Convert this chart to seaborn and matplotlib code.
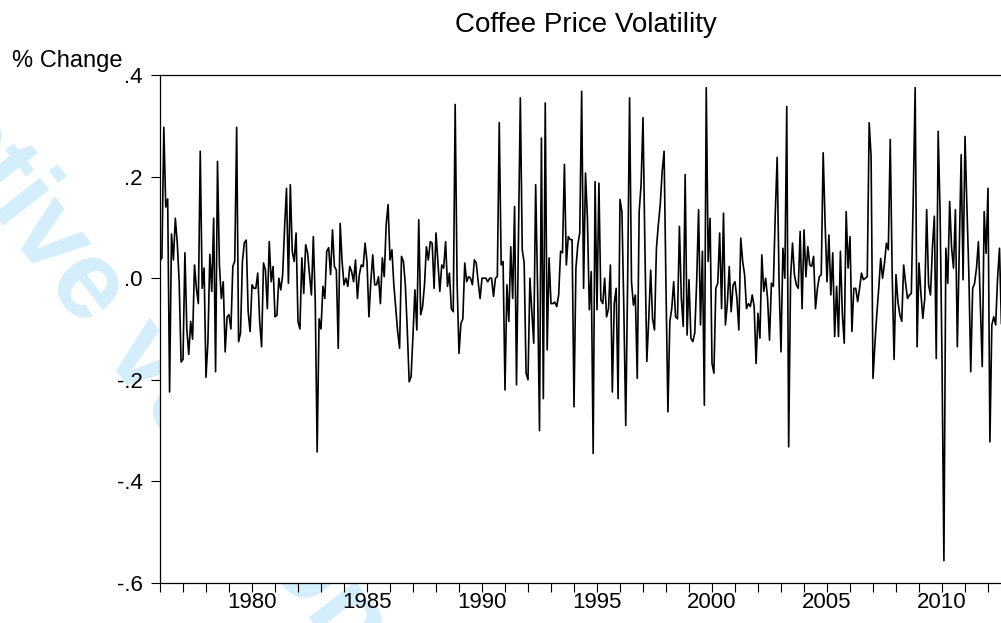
import numpy as np
import pandas as pd
import seaborn as sns
import matplotlib.pyplot as plt
from matplotlib.ticker import FixedLocator, MultipleLocator

# monthly % change, starting 1976M01
pct_change = [
    # 1976 - 1979
    0.034, 0.04, 0.297, 0.14, 0.156, -0.224, 0.087, 0.036, 0.118, 0.07, -0.007, -0.165,
    -0.16, 0.05, -0.1, -0.15, -0.085, -0.12, 0.026, -0.02, -0.05, 0.25, -0.02, 0.02,
    -0.195, -0.125, 0.047, -0.026, 0.118, -0.184, 0.23, 0.026, -0.04, -0.007, -0.145, -0.076,
    -0.072, -0.1, 0.023, 0.034, 0.297, -0.125, -0.108, 0.033, 0.07, 0.075, -0.066,
    # 1979M12 - 1983
    -0.105, -0.013, -0.02, -0.02, 0.01, -0.085, -0.135, 0.03, 0.016, -0.06, 0.072, -0.007,
    0.023, -0.076, -0.073, 0.0, -0.023, 0.007, 0.10, 0.177, -0.01, 0.184, 0.053, 0.033,
    0.089, -0.085, -0.10, 0.04, -0.03, 0.066, 0.05, 0.007, -0.033, 0.082, -0.046, -0.342,
    -0.08, -0.10, -0.016, -0.04, 0.053, 0.06, 0.007, 0.095, 0.023, 0.016, -0.138,
    # 1983M11 - 1987
    0.108, 0.033, -0.013, 0.0, -0.016, 0.023, 0.013, -0.007, 0.036, -0.04, 0.007, 0.026,
    0.023, 0.069, 0.033, -0.076, -0.007, 0.046, -0.013, -0.013, 0.003, -0.05, 0.04, 0.003,
    0.105, 0.145, 0.036, 0.056, -0.013, -0.06, -0.105, -0.138, 0.043, 0.033, -0.013, -0.10,
    -0.204, -0.194, -0.112, -0.023, -0.102, 0.115, -0.072, -0.056, -0.013, 0.062, 0.036,
    # 1987M10 - 1991
    0.072, 0.069, -0.02, 0.089, 0.033, -0.026, 0.026, 0.02, 0.072, -0.016, 0.01, -0.06,
    -0.066, 0.342, -0.007, -0.148, -0.089, -0.08, 0.03, -0.007, 0.003, 0.0, -0.013, 0.036,
    0.03, -0.007, -0.04, 0.0, 0.0, 0.0, -0.007, 0.0, 0.0, -0.036, 0.0, 0.003,
    0.306, 0.026, 0.033, -0.22, -0.013, -0.085, 0.062, -0.04, 0.141, -0.21,
    # 1991M08 - 1995
    0.07, 0.355, 0.056, 0.03, -0.187, -0.2, 0.0, -0.066, -0.128, 0.184, -0.02, -0.3,
    0.276, -0.237, 0.345, -0.141, 0.04, -0.05, -0.05, -0.047, -0.056, -0.033, 0.053, 0.05,
    0.224, 0.026, 0.082, 0.076, 0.076, -0.253, 0.02, 0.066, 0.089, 0.368, -0.02, 0.207,
    0.118, -0.062, 0.013, -0.345, 0.19, -0.062, 0.187, -0.043, -0.05, 0.0, -0.076, -0.06,
    0.026,
    # 1995M09 - 1999
    -0.224, -0.05, -0.02, -0.237, 0.155, 0.131, -0.06, -0.29, 0.0, 0.355, -0.007, -0.053,
    -0.033, -0.197, 0.131, 0.184, 0.316, 0.059, -0.164, -0.08, 0.016, -0.08, -0.102, 0.059,
    0.105, 0.145, 0.21, 0.25, -0.02, -0.263, -0.085, -0.06, -0.007, -0.076, -0.08, 0.102,
    -0.04, -0.095, 0.204, -0.112, -0.003, -0.118, -0.125, -0.108, -0.007, 0.135,
    # 1999M07 - 2003
    -0.092, 0.053, -0.25, 0.375, 0.033, 0.118, -0.168, -0.187, -0.02, -0.01, 0.089, -0.06,
    0.128, -0.092, -0.05, 0.023, -0.066, -0.013, -0.007, -0.04, -0.102, 0.079, 0.033, 0.007,
    -0.06, -0.05, -0.056, -0.033, -0.056, -0.168, -0.069, -0.118, 0.046, -0.026, 0.0, -0.04,
    -0.122, -0.01, -0.016, 0.125, 0.238, -0.01, -0.145, 0.059, 0.0, 0.338, -0.332,
    # 2003M06 - 2007
    0.0, 0.069, 0.007, -0.013, -0.02, 0.092, -0.06, 0.095, 0.003, 0.062, 0.026, 0.023,
    0.043, -0.06, -0.02, 0.003, 0.007, 0.247, 0.11, -0.007, 0.085, -0.033, 0.05, -0.115,
    -0.016, -0.115, 0.053, -0.07, -0.128, 0.131, 0.02, 0.082, -0.105, -0.02, -0.02, -0.046,
    -0.02, 0.01, -0.003, 0.0, 0.003, 0.306, 0.24, -0.197,
    # 2007M02 - 2012
    -0.13, -0.07, -0.02, 0.039, 0.0, 0.03, 0.069, 0.056, 0.273, 0.01, -0.16, 0.007,
    -0.046, -0.072, -0.085, 0.026, -0.01, -0.04, -0.033, -0.03, 0.16, 0.375, -0.135, 0.03,
    -0.03, -0.079, -0.04, 0.135, -0.013, -0.033, 0.06, 0.122, -0.158, 0.289, 0.13, -0.16,
    -0.556, 0.059, -0.01, 0.151, 0.06, 0.02, 0.135, -0.135, 0.05, 0.243, -0.003, 0.279,
    0.14, 0.01, -0.184, -0.02, -0.01, 0.02, 0.072, -0.05, -0.174, 0.131, 0.049, 0.177,
    -0.322, -0.092, -0.076, -0.092, 0.0, 0.059, -0.09,
]
start_year = 1976
y_ticks = [-0.6, -0.4, -0.2, 0.0, 0.2, 0.4]
y_tick_labels = ["-.6", "-.4", "-.2", ".0", ".2", ".4"]
x_ticks = [1980, 1985, 1990, 1995, 2000, 2005, 2010]

df = pd.DataFrame({"year": start_year + np.arange(len(pct_change)) / 12.0,
                   "change": pct_change})

sns.set_style("ticks")
plt.rcParams['font.family'] = ['Liberation Sans', 'DejaVu Sans']

W, H = 1001, 623
fig = plt.figure(figsize=(W / 100, H / 100), dpi=100)

# light blue watermark behind the (white) plot area
fig.text(-122 / W, 1 - 66 / H, "Active version", rotation=-52, rotation_mode='anchor',
         ha='left', va='baseline', fontsize=80, fontweight='bold', color='#d5eefb', zorder=-1)

ax = fig.add_axes([160 / W, 40 / H, (W - 160) / W, 508 / H])
ax.set_facecolor('white')

sns.lineplot(data=df, x="year", y="change", ax=ax, color='black', linewidth=1.2,
             estimator=None)

ax.set_xlim(start_year, start_year + (W - 160) / 23.0)
ax.set_ylim(-0.6, 0.4)
ax.yaxis.set_major_locator(FixedLocator(y_ticks))
ax.set_yticklabels(y_tick_labels)
ax.xaxis.set_major_locator(FixedLocator(x_ticks))
ax.xaxis.set_minor_locator(MultipleLocator(1))
ax.set_xticklabels([str(t) for t in x_ticks])
ax.set_xlabel("")
ax.set_ylabel("")

for side in ["left", "top", "bottom"]:
    ax.spines[side].set_visible(True)
    ax.spines[side].set_color('black')
    ax.spines[side].set_linewidth(0.9)
ax.spines["right"].set_visible(False)

ax.tick_params(axis='both', which='both', direction='out', length=6.5, width=0.8,
               color='black', labelsize=16, labelcolor='black')
ax.tick_params(axis='x', pad=0)
ax.tick_params(axis='y', pad=6)

fig.text(586 / W, 1 - 25 / H, "Coffee Price Volatility", ha='center', va='center',
         fontsize=20, color='black')
fig.text(12 / W, 1 - 67 / H, "% Change", ha='left', va='baseline', fontsize=17,
         color='black')

fig.savefig("out.png", dpi=100, facecolor='white')
